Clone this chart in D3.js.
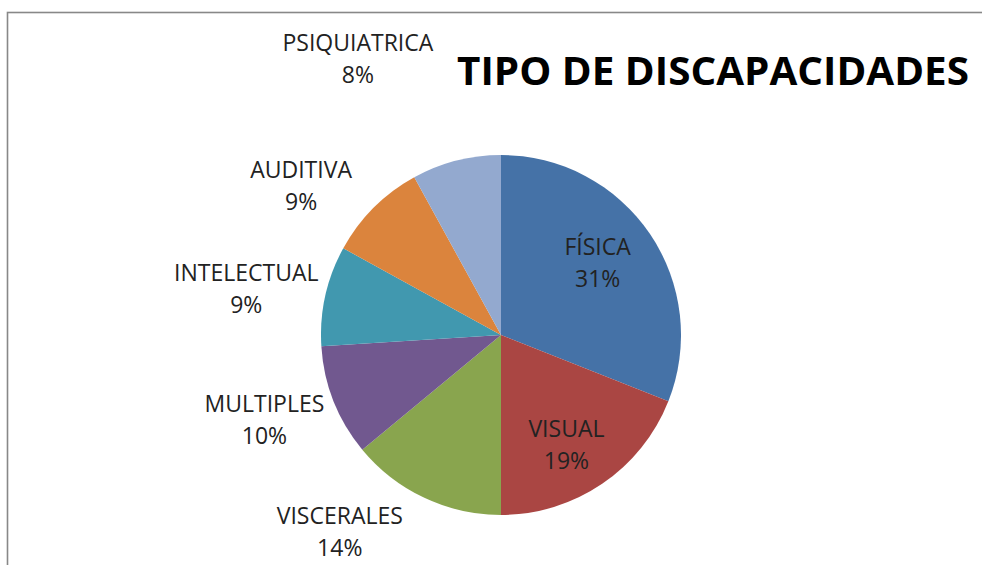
<!DOCTYPE html>
<html>
<meta charset="utf-8">
<style>
body { margin: 0; background: #fff; }
.lbl { font-family: "Open Sans", sans-serif; font-size: 23px; fill: #222; }
.title { font-family: "Open Sans", sans-serif; font-size: 40px; font-weight: bold; fill: #000; }
</style>
<body>
<svg width="982" height="565"></svg>
<script src="https://d3js.org/d3.v7.min.js"></script>
<script>
// data
var categories = ["FÍSICA", "VISUAL", "VISCERALES", "MULTIPLES", "INTELECTUAL", "AUDITIVA", "PSIQUIATRICA"];
var values = [31, 19, 14, 10, 9, 9, 8];
var colors = ["#4572A7", "#AA4643", "#89A54E", "#71588F", "#4198AF", "#DB843D", "#93A9CF"];

// where excel put each label: [distance from centre, angle in degrees clockwise from top]
var labelPolar = [[121, 53], [127, 149], [254, 219.4], [251, 250.5], [259, 280.4], [250, 306.9], [312, 332.7]];

var svg = d3.select("svg"),
    cx = 501, cy = 335, radius = 180;

// chart area frame (only top and left edges are visible in the crop)
svg.append("rect")
    .attr("x", 7.5).attr("y", 12.5)
    .attr("width", 1100).attr("height", 700)
    .attr("fill", "none")
    .attr("stroke", "#888")
    .attr("stroke-width", 1.6);

svg.append("text")
    .attr("class", "title")
    .attr("x", 713)
    .attr("y", 85)
    .attr("text-anchor", "middle")
    .attr("textLength", 512)
    .attr("lengthAdjust", "spacingAndGlyphs")
    .text("TIPO DE DISCAPACIDADES");

var pie = d3.pie().sort(null).value(function(d) { return d; });
var arc = d3.arc().innerRadius(0).outerRadius(radius);

var g = svg.append("g").attr("transform", "translate(" + cx + "," + cy + ")");

var slices = pie(values);

g.selectAll("path")
  .data(slices)
  .enter().append("path")
    .attr("d", arc)
    .attr("fill", function(d, i) { return colors[i]; });

var total = d3.sum(values);

var labels = g.selectAll(".lbl")
  .data(slices)
  .enter().append("text")
    .attr("class", "lbl")
    .attr("text-anchor", "middle")
    .attr("transform", function(d, i) {
      var p = d3.pointRadial(labelPolar[i][1] * Math.PI / 180, labelPolar[i][0]);
      return "translate(" + p[0] + "," + p[1] + ")";
    });

labels.append("tspan")
    .attr("x", 0).attr("y", -7)
    .text(function(d, i) { return categories[i]; });

labels.append("tspan")
    .attr("x", 0).attr("y", 25)
    .text(function(d) { return Math.round(d.value / total * 100) + "%"; });
</script>
</body>
</html>
